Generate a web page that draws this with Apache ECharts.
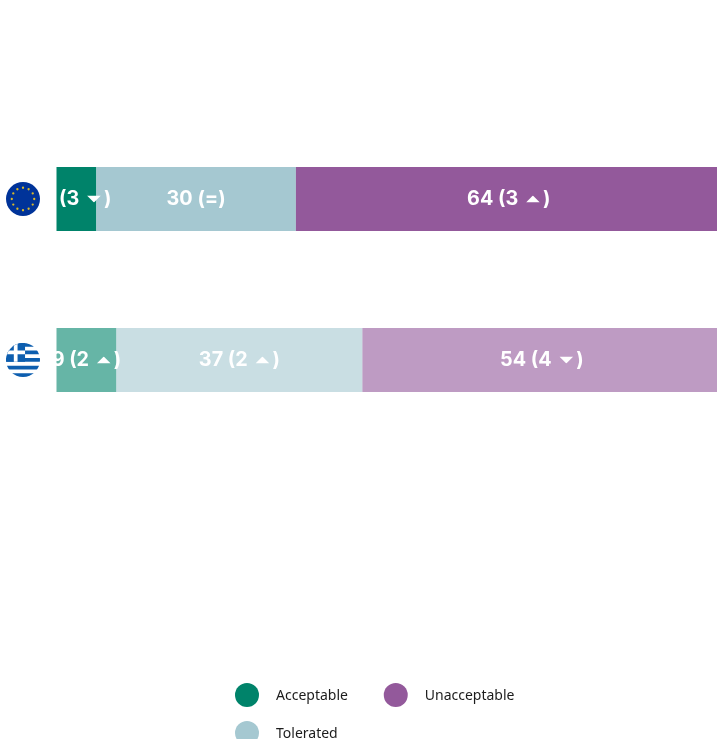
<!DOCTYPE html>
<html><head><meta charset="utf-8">
<style>html,body{margin:0;padding:0;background:#fff}#c{width:717px;height:739px}</style>
<script src="https://cdn.jsdelivr.net/npm/echarts@6/dist/echarts.min.js"></script>
</head><body><div id="c"></div>
<script>
const regions = ['EU', 'Greece'];
const seriesNames = ['Acceptable', 'Tolerated', 'Unacceptable'];
const legendOrder = ['Acceptable', 'Unacceptable', 'Tolerated'];
const acceptable = [6, 9];
const tolerated = [30, 37];
const unacceptable = [64, 54];
const acceptableChange = ['3 down', '2 up'];
const toleratedChange = ['=', '2 up'];
const unacceptableChange = ['3 up', '4 down'];
const colors = [[0, 131, 106], [165, 200, 209], [147, 89, 155]];
const rowOpacity = [1, 0.6];

function stars() {
  let s = '';
  for (let i = 0; i < 12; i++) {
    const a = i * Math.PI / 6;
    s += '<circle cx="' + (50 + 33 * Math.cos(a)).toFixed(1) + '" cy="' + (50 + 33 * Math.sin(a)).toFixed(1) + '" r="3.4" fill="#d9b92a"/>';
  }
  return s;
}
const euSvg = '<svg xmlns="http://www.w3.org/2000/svg" width="34" height="34" viewBox="0 0 100 100"><circle cx="50" cy="50" r="50" fill="#003399"/>' + stars() + '</svg>';
const grSvg = '<svg xmlns="http://www.w3.org/2000/svg" width="34" height="34" viewBox="0 0 100 100"><defs><clipPath id="k"><circle cx="50" cy="50" r="50"/></clipPath></defs><g clip-path="url(#k)"><rect width="100" height="100" fill="#fff"/>'
  + [0, 22.2, 44.4, 66.6, 88.8].map(y => '<rect y="' + y + '" width="100" height="11.1" fill="#0d5eaf"/>').join('')
  + '<rect width="56" height="55.5" fill="#0d5eaf"/><rect x="23" width="11" height="55.5" fill="#fff"/><rect y="22.2" width="56" height="11.1" fill="#fff"/></g></svg>';
const triUp = '<svg xmlns="http://www.w3.org/2000/svg" width="14" height="7" viewBox="0 0 14 7"><path d="M7 0 L14 7 H0 Z" fill="#fff"/></svg>';
const triDown = '<svg xmlns="http://www.w3.org/2000/svg" width="14" height="7" viewBox="0 0 14 7"><path d="M0 0 H14 L7 7 Z" fill="#fff"/></svg>';
const uri = s => 'data:image/svg+xml;charset=utf-8,' + encodeURIComponent(s);

const labelFont = { color: '#fff', fontFamily: 'Inter', fontWeight: 700, fontSize: 19.8 };
function changeText(c) {
  if (c === '=') return '(=)';
  const [n, dir] = c.split(' ');
  return '(' + n + ' {gapL| }{' + dir + '|}{gapR| })';
}
function makeSeries(name, values, changes, idx) {
  const rgb = colors[idx].join(',');
  return {
    name, type: 'bar', stack: 'total', barWidth: 64, silent: true,
    itemStyle: { color: 'rgb(' + rgb + ')' },
    data: values.map((v, i) => ({
      value: v,
      itemStyle: { color: 'rgba(' + rgb + ',' + rowOpacity[i] + ')' },
      label: {
        show: true, position: 'inside',
        formatter: v + ' ' + changeText(changes[i]),
        ...labelFont,
        rich: {
          gapL: { width: 3 },
          gapR: { width: 3 },
          up: { width: 14, height: 7, backgroundColor: { image: uri(triUp) } },
          down: { width: 14, height: 7, backgroundColor: { image: uri(triDown) } }
        }
      }
    }))
  };
}

const chart = echarts.init(document.getElementById('c'), null, { renderer: 'canvas' });
chart.setOption({
  animation: false,
  backgroundColor: '#fff',
  grid: { left: 56.5, width: 665, top: 118.5, height: 322, outerBoundsMode: 'none' },
  xAxis: { type: 'value', min: 0, max: 100, show: false },
  yAxis: {
    type: 'category', inverse: true, data: regions,
    axisLine: { show: false }, axisTick: { show: false },
    axisLabel: {
      margin: 16.5,
      formatter: v => v === 'EU' ? '{eu|}' : '{gr|}',
      rich: {
        eu: { width: 34, height: 34, backgroundColor: { image: uri(euSvg) } },
        gr: { width: 34, height: 34, backgroundColor: { image: uri(grSvg) } }
      }
    }
  },
  legend: {
    left: 235, top: 683, width: 320, padding: 0, icon: 'circle',
    itemWidth: 24, itemHeight: 24, itemGap: 14,
    selectedMode: false,
    data: legendOrder,
    formatter: n => '{t|' + n + '}{pad|      }',
    textStyle: {
      fontFamily: 'Noto Sans', fontSize: 14, color: '#222', padding: [3, 0, 0, 12],
      rich: { t: { fontFamily: 'Noto Sans', fontSize: 14, color: '#1c1c1c' }, pad: { fontSize: 14 } }
    }
  },
  series: [
    makeSeries(seriesNames[0], acceptable, acceptableChange, 0),
    makeSeries(seriesNames[1], tolerated, toleratedChange, 1),
    makeSeries(seriesNames[2], unacceptable, unacceptableChange, 2)
  ]
});
</script></body></html>
